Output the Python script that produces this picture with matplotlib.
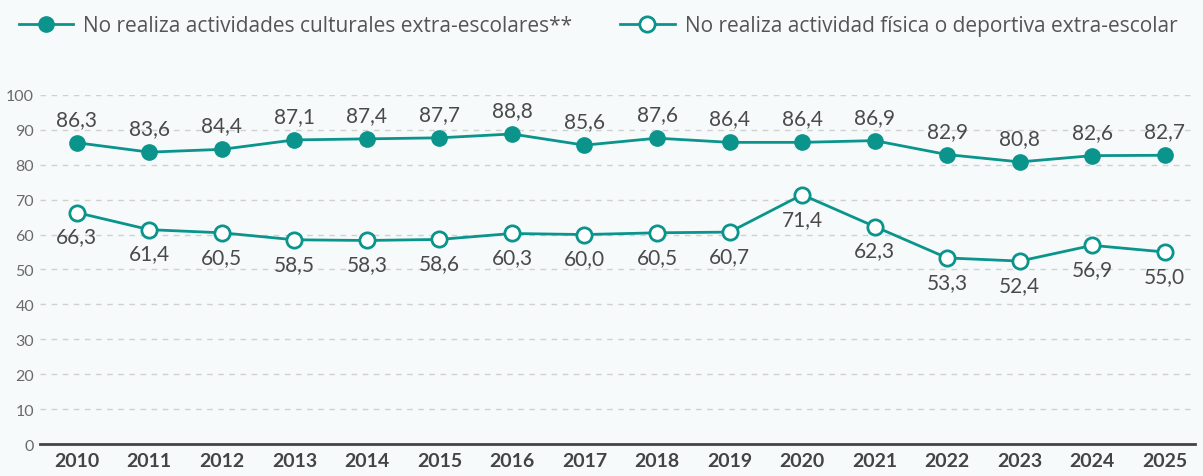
import matplotlib.pyplot as plt

years = list(range(2010, 2026))
cultural = [86.3, 83.6, 84.4, 87.1, 87.4, 87.7, 88.8, 85.6, 87.6, 86.4, 86.4, 86.9, 82.9, 80.8, 82.6, 82.7]
fisica = [66.3, 61.4, 60.5, 58.5, 58.3, 58.6, 60.3, 60.0, 60.5, 60.7, 71.4, 62.3, 53.3, 52.4, 56.9, 55.0]
label_cultural = "No realiza actividades culturales extra-escolares**"
label_fisica = "No realiza actividad física o deportiva extra-escolar"

teal = '#0a948c'
bg = '#f6fafb'
plt.rcParams['font.family'] = ['Lato', 'DejaVu Sans']

fig = plt.figure(figsize=(12.03, 4.77), dpi=100, facecolor=bg)
ax = fig.add_axes([0.033, 0.067, 0.96, 0.732], facecolor=bg)

ax.plot(years, cultural, '-o', color=teal, linewidth=2, markersize=11,
        markerfacecolor=teal, markeredgecolor=teal, label=label_cultural, clip_on=False, zorder=3)
ax.plot(years, fisica, '-o', color=teal, linewidth=2, markersize=11, markeredgewidth=2,
        markerfacecolor='white', markeredgecolor=teal, label=label_fisica, clip_on=False, zorder=3)

def fmt(v):
    return f"{v:.1f}".replace('.', ',')

for x, v in zip(years, cultural):
    ax.annotate(fmt(v), (x, v), xytext=(0, 10), textcoords='offset points',
                ha='center', va='bottom', fontsize=15, color='#4a4a4a')
for x, v in zip(years, fisica):
    ax.annotate(fmt(v), (x, v), xytext=(0, -10), textcoords='offset points',
                ha='center', va='top', fontsize=15, color='#4a4a4a')

ax.set_xlim(2009.49, 2025.41)
ax.set_ylim(0, 100)
ax.set_yticks(range(0, 101, 10))
ax.set_xticks(years)
ax.set_xticklabels([str(y) for y in years], fontsize=14, fontweight='bold', color='#444444')
ax.tick_params(axis='y', length=0, labelsize=11.5, labelcolor='#6a6a6a', pad=4)
ax.tick_params(axis='x', length=0, pad=6)
ax.grid(axis='y', color='#d0d0d0', linestyle=(0, (4, 4)), linewidth=1)
for s in ['top', 'right', 'left']:
    ax.spines[s].set_visible(False)
ax.spines['bottom'].set_color('#444444')
ax.spines['bottom'].set_linewidth(2)

fig.legend(loc='upper left', bbox_to_anchor=(0.0, 1.005), ncol=2, frameon=False,
           prop={'family': ['Open Sans', 'DejaVu Sans'], 'size': 15},
           labelcolor='#555555', handlelength=2.6, columnspacing=2.3,
           handletextpad=0.5)

fig.savefig('out.png', dpi=100, facecolor=bg)
